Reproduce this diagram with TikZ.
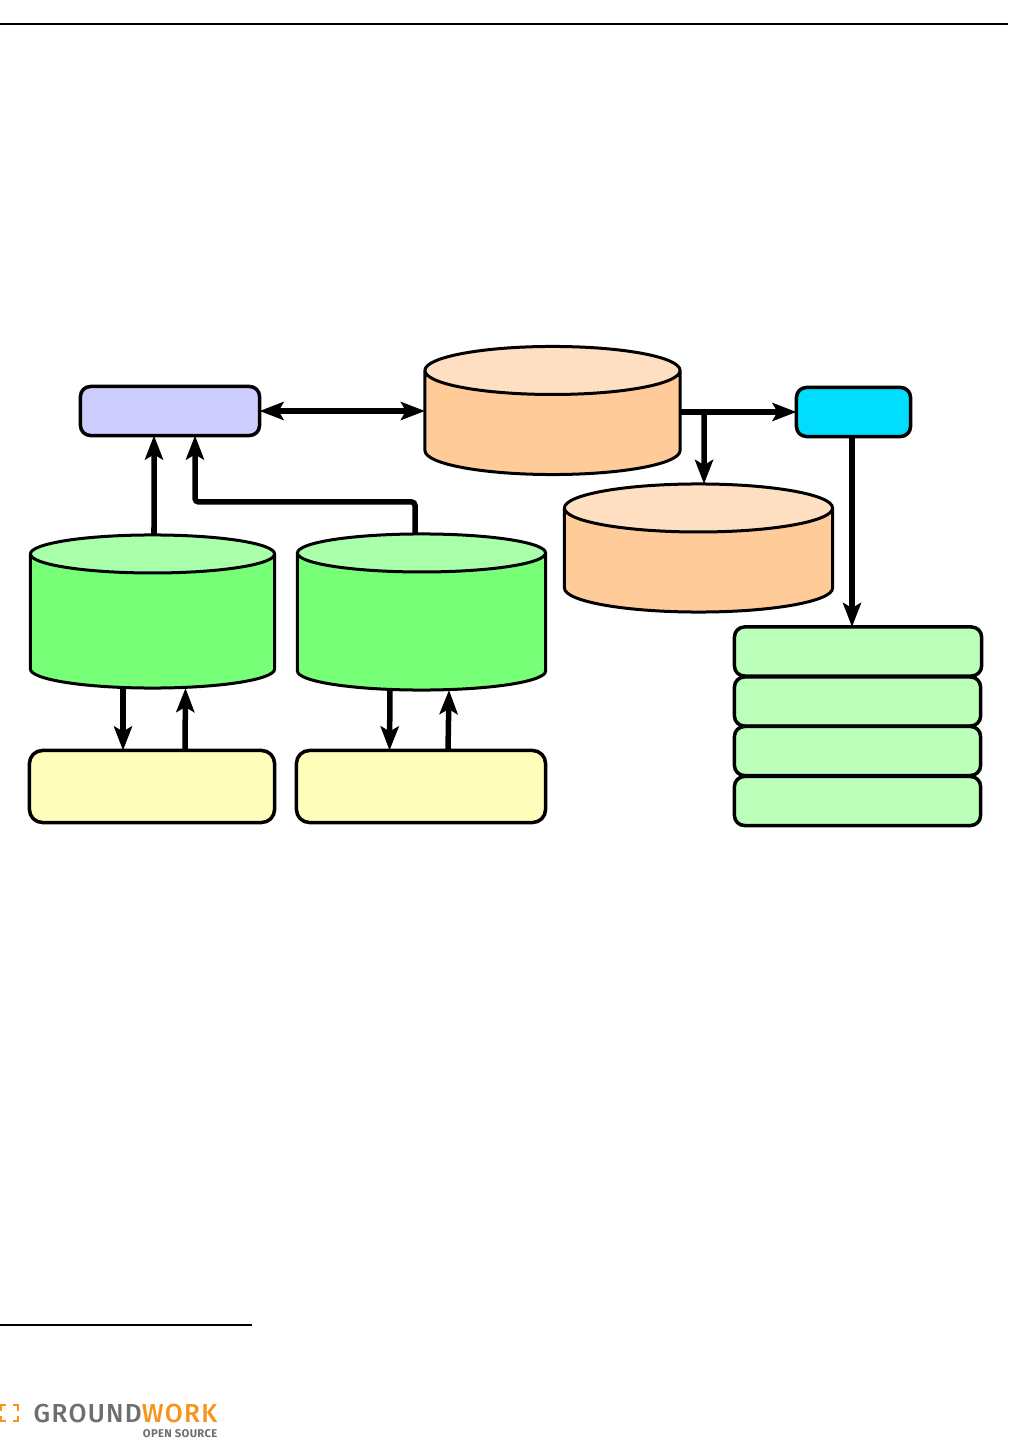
\documentclass[tikz,border=0pt]{standalone}
\usepackage{fontspec}
\usepackage{tikz}
\usetikzlibrary{positioning, arrows.meta, shapes.geometric, calc}
\newfontfamily\marcafont[LetterSpace=5]{Fira Sans Medium}
\newfontfamily\marcasub[LetterSpace=3]{Fira Sans}
\definecolor{lila}{HTML}{CCCCFF}
\definecolor{naranja}{HTML}{FFCC99}
\definecolor{naranjatapa}{HTML}{FFDFC2}
\definecolor{verde}{HTML}{77FF77}
\definecolor{verdetapa}{HTML}{AAFFAA}
\definecolor{amarillo}{HTML}{FFFFBB}
\definecolor{celeste}{HTML}{00DDFF}
\definecolor{menta}{HTML}{BBFFBB}
\definecolor{gris}{HTML}{6D6E70}
\definecolor{marca}{HTML}{F7941D}

\begin{document}
\begin{tikzpicture}[x=0.01cm, y=-0.01cm,
			caja/.style={draw=black, rounded corners=0.1cm, line width=0.035cm, outer sep=0pt, inner sep=0pt},
			bidon/.style={draw=black, cylinder, shape border rotate=90, cylinder uses custom fill, line width=0.03cm, outer sep=0pt, inner sep=0pt, text width=0.1cm, anchor=shape center, minimum width=#1},
			flecha/.style={line width=0.055cm, -{Stealth[length=0.24cm, width=0.18cm, inset=0.05cm]}}]
			\useasboundingbox (0,0) rectangle (1008,1440);
			\fill[white] (0,0) rectangle (1008,1440);
			% filas del dibujo
			\node[caja, fill=lila, minimum width=1.79cm, minimum height=0.49cm] (servidor) at (170,411) {};
			\node[bidon=2.55cm, minimum height=1.28cm, aspect=4.8, cylinder end fill=naranjatapa, cylinder body fill=naranja] (central) at (552.5,410.5) {};
			\node[caja, fill=celeste, minimum width=1.14cm, minimum height=0.49cm] (salida) at (853.5,412) {};
			\node[bidon=2.68cm, minimum height=1.28cm, aspect=4.8, cylinder end fill=naranjatapa, cylinder body fill=naranja] (copia) at (698.5,548) {};
			\node[bidon=2.44cm, minimum height=1.53cm, aspect=3.8, cylinder end fill=verdetapa, cylinder body fill=verde] (izq) at (152.5,611.5) {};
			\node[bidon=2.48cm, minimum height=1.56cm, aspect=3.8, cylinder end fill=verdetapa, cylinder body fill=verde] (der) at (421.5,612) {};
			\node[caja, fill=amarillo, rounded corners=0.13cm, minimum width=2.45cm, minimum height=0.72cm] (fuenteizq) at (152,786.5) {};
			\node[caja, fill=amarillo, rounded corners=0.13cm, minimum width=2.49cm, minimum height=0.72cm] (fuenteder) at (421,786.5) {};
			\node[caja, fill=menta, minimum width=2.47cm, minimum height=0.49cm] (capa1) at (858,651.5) {};
			\node[caja, fill=menta, minimum width=2.46cm, minimum height=0.49cm] (capa2) at (857.5,701.5) {};
			\node[caja, fill=menta, minimum width=2.46cm, minimum height=0.49cm] (capa3) at (857.5,751) {};
			\node[caja, fill=menta, minimum width=2.46cm, minimum height=0.49cm] (capa4) at (857.5,801) {};
			\draw[flecha, {Stealth[length=0.24cm, width=0.18cm, inset=0.05cm]}-{Stealth[length=0.24cm, width=0.18cm, inset=0.05cm]}] (servidor.east) -- (servidor.east -| central.west);
			\draw[flecha] ($(izq.north)+(1.5,0)$) -- ($(servidor.south)+(-16,0)$);
			\draw[flecha, rounded corners=1pt] ($(der.north)+(-6.5,0)$) -- ++(0,-32) -| ($(servidor.south)+(25,0)$);
			\draw[flecha] (central.east |- salida.west) -- (salida.west);
			\draw[flecha] ($(central.east |- salida.west)+(24,0)$) -- ($(copia.north)+(5.5,0)$);
			\draw[flecha, line width=0.06cm] ($(salida.south)+(-1.5,0)$) -- ($(capa1.north)+(-6,0)$);
			\draw[flecha] ($(izq.south)+(-29.5,0)$) -- ($(fuenteizq.north)+(-29,0)$);
			\draw[flecha] ($(fuenteizq.north)+(33,0)$) -- ($(izq.south)+(33,0)$);
			\draw[flecha] ($(der.south)+(-31.5,0)$) -- ($(fuenteder.north)+(-31.5,0)$);
			\draw[flecha] ($(fuenteder.north)+(27,0)$) -- ($(der.south)+(27.5,0)$);
			% marcas de pagina
			\coordinate (regla1a) at (0,24);
			\coordinate (regla1b) at (1008,24);
			\coordinate (regla2a) at (0,1325);
			\coordinate (regla2b) at (252,1325);
			\draw[line width=0.012cm] (regla1a) -- (regla1b);
			\draw[line width=0.012cm] (regla2a) -- (regla2b);
			\draw[marca, line width=0.028cm] (6,1405) -| (1,1411) (1,1416) |- (6,1421) (13,1405) -| (18,1411) (18,1416) |- (13,1421);
			\node[inner sep=0pt, anchor=base west, font=\marcafont\fontsize{7.4pt}{8pt}\selectfont] (logo) at (33,1422) {\textcolor{gris}{GROUND}\textcolor{marca}{WORK}};
			\node[inner sep=0pt, anchor=base east, font=\marcasub\bfseries\fontsize{3.2pt}{4pt}\selectfont, text=gris] (lema) at (218,1437) {OPEN SOURCE};
		\end{tikzpicture}
\end{document}
